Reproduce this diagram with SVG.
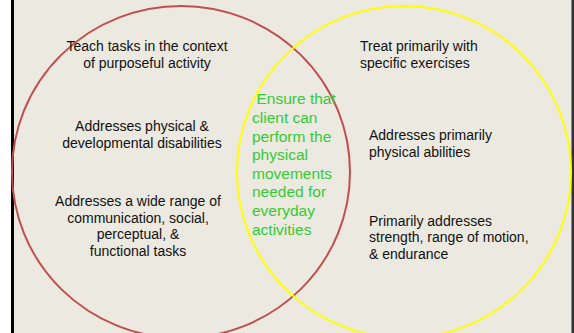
<svg xmlns="http://www.w3.org/2000/svg" width="574" height="333" viewBox="0 0 574 333">
  <style>
    .lbl { font-family: "Liberation Sans", Arial, sans-serif; font-size: 14px; fill: #111111; }
    .mid { text-anchor: middle; }
    .shared { font-family: "Liberation Sans", Arial, sans-serif; font-size: 15.5px; fill: #33CC33; }
    .ring { fill: none; stroke-width: 2; }
  </style>

  <!-- page frame -->
  <rect x="0" y="0" width="574" height="333" fill="#FFFFFF"/>
  <rect x="14" y="0" width="558" height="333" fill="#ECE9E0"/>
  <rect x="11" y="0" width="3" height="333" fill="#000000"/>
  <rect x="571.5" y="0" width="2.5" height="333" fill="#333333"/>

  <!-- the two overlapping sets -->
  <g id="set-left">
    <ellipse class="ring" cx="181" cy="172" rx="169" ry="166" stroke="#C0504D"/>
  </g>
  <g id="set-right">
    <ellipse class="ring" cx="404" cy="172" rx="167" ry="166" stroke="#FFFF00"/>
  </g>

  <!-- left-only statements -->
  <g id="left-1">
    <text class="lbl mid" x="147" y="51">Teach tasks in the context</text>
    <text class="lbl mid" x="147" y="67.7">of purposeful activity</text>
  </g>
  <g id="left-2">
    <text class="lbl mid" x="142" y="131">Addresses physical &amp;</text>
    <text class="lbl mid" x="142" y="147.7">developmental disabilities</text>
  </g>
  <g id="left-3">
    <text class="lbl mid" x="138" y="206">Addresses a wide range of</text>
    <text class="lbl mid" x="138" y="222.7">communication, social,</text>
    <text class="lbl mid" x="138" y="239.4">perceptual, &amp;</text>
    <text class="lbl mid" x="138" y="256.1">functional tasks</text>
  </g>

  <!-- right-only statements -->
  <g id="right-1">
    <text class="lbl" x="360" y="51">Treat primarily with</text>
    <text class="lbl" x="360" y="67.7">specific exercises</text>
  </g>
  <g id="right-2">
    <text class="lbl" x="369" y="140">Addresses primarily</text>
    <text class="lbl" x="369" y="156.7">physical abilities</text>
  </g>
  <g id="right-3">
    <text class="lbl" x="369" y="225.5">Primarily addresses</text>
    <text class="lbl" x="369" y="242.2">strength, range of motion,</text>
    <text class="lbl" x="369" y="258.9">&amp; endurance</text>
  </g>

  <!-- overlap statement -->
  <g id="overlap">
    <text class="shared" x="256.5" y="104.4">Ensure that</text>
    <text class="shared" x="252" y="123">client can</text>
    <text class="shared" x="252" y="141.6">perform the</text>
    <text class="shared" x="252" y="160.2">physical</text>
    <text class="shared" x="252" y="178.8">movements</text>
    <text class="shared" x="252" y="197.4">needed for</text>
    <text class="shared" x="252" y="216">everyday</text>
    <text class="shared" x="252" y="234.6">activities</text>
  </g>

  <!-- no connectors in this figure -->
  <g id="connectors"/>
</svg>
